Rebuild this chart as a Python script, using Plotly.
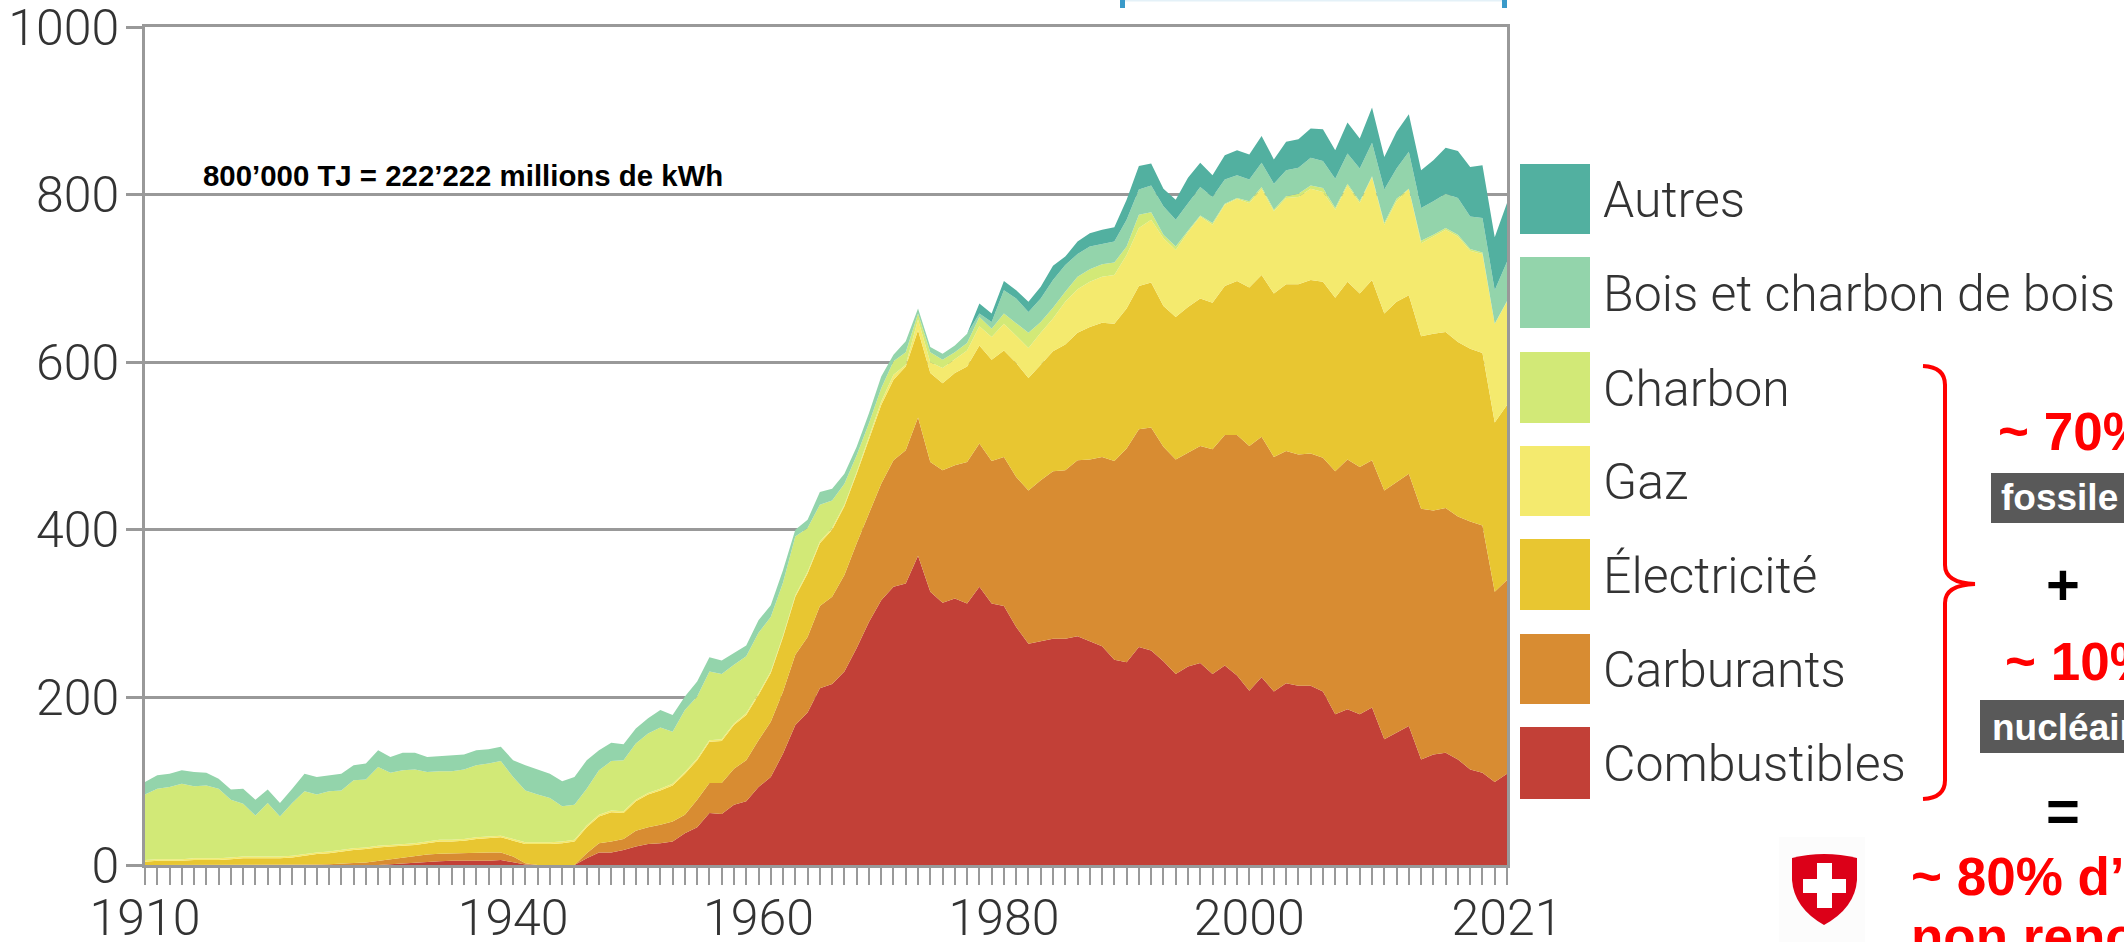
import plotly.graph_objects as go

years = list(range(1910, 2022))

# Upper boundary of each stacked band (1000 TJ)
combustibles = [0,0,0,0,0,0,0,0,0,0,0,0,0,0,0,0,0,0,0,0,
 1,2,3,4,4.5,5,5,5,5,6,3,0.5,0,0,0,0,
 8,15,15,18,22,25,26,28,38,45,62,61,72,76,93,105,133,167,182,211,216,231,259,290,316,332,336,369,326,313,318,312,332,312,309,
 284,264,267,270,270,273,267,261,245,242,260,256,243,228,237,241,228,238,226,208,224,207,217,214,214,207,180,186,180,188,150,158,166,126,132,134,126,114,110,99,109]
carburants = [0,0,0,0,0,0,0,0,0,0,0,0,0,0,
 0.5,1,2,2.5,3,5,7,9,11,12.5,13.5,14,14,14.5,15,15,10,2,0,0,0,0,
 14,26,28,31,41,45,48,52,60,78,98,98,115,125,149,171,207,251,272,309,320,346,384,420,455,483,495,534,481,471,477,481,503,482,487,
 463,447,459,470,471,483,484,487,482,497,520,522,499,484,492,500,496,513,513,500,511,487,494,490,491,486,470,484,475,483,447,457,467,425,423,426,416,410,405,326,340]
electricite = [4,5,5,5,6,6,6,7,8,8,8,8,9,11,13,14,16,18,19,21,22,23,24,26,28,28,29,31,32,33,29,25,25,25,26,28,
 45,58,63,62,76,84,89,95,109,125,147,148,167,179,203,229,272,320,348,384,400,428,467,507,549,579,595,638,587,575,587,595,620,603,614,
 599,581,597,613,621,635,642,647,646,664,691,695,667,654,666,676,671,691,697,689,704,682,693,693,698,696,677,696,682,698,658,672,680,631,634,636,624,616,611,528,549]
gaz = [6,7,7,7,8,8,8,9,10,10,10,10,11,13,15,16,18,20,21,23,24,25,26,28,30,30,31,33,34,35,31,27,27,27,28,30,
 47,60,65,64,78,86,91,97,111,127,149,150,169,181,205,231,274,322,350,386,402,430,469,510,553,585,597,651,600,593,604,614,643,630,646,
 632,617,635,652,672,687,696,702,704,728,760,770,748,734,755,774,764,788,795,790,807,780,796,797,807,803,782,811,790,821,764,792,807,742,750,758,750,733,729,646,672]
charbon = [84,91,93,97,94,95,91,78,73,59,74,58,74,88,84,88,89,101,102,117,110,113,114,111,112,112,114,119,121,124,105,89,84,80,70,72,
 91,113,124,125,145,157,164,159,185,201,231,228,239,249,277,296,337,392,402,430,435,455,489,527,569,601,612,658,612,603,612,623,654,640,658,
 646,635,648,665,684,702,711,717,719,738,776,779,752,738,757,775,766,789,796,792,809,782,798,801,811,808,784,813,792,822,766,795,807,745,752,760,752,735,731,646,673]
bois = [99,107,109,113,111,110,103,90,91,78,90,74,91,109,105,107,109,119,121,137,129,134,134,129,130,131,132,137,138,141,125,119,114,109,100,105,
 125,137,146,144,163,175,185,179,201,219,248,244,253,262,292,310,352,400,412,445,449,467,499,539,583,609,625,664,618,610,620,634,658,648,686,
 676,660,676,698,716,729,738,741,744,770,806,811,786,770,790,809,797,818,823,818,838,813,829,832,844,840,819,849,831,862,806,831,851,784,792,801,796,774,772,686,720]
autres = [99,107,109,113,111,110,103,90,91,78,90,74,91,109,105,107,109,119,121,137,129,134,134,129,130,131,132,137,138,141,125,119,114,109,100,105,
 125,137,146,144,163,175,185,179,201,219,248,244,253,262,292,310,352,400,412,445,449,467,499,539,583,609,625,664,618,610,620,634,670,658,697,
 686,672,690,715,726,744,754,758,761,794,834,837,807,794,820,838,823,847,853,848,870,842,863,866,879,878,853,886,867,904,845,875,896,829,841,856,852,833,835,749,790]

series_names = ["Combustibles", "Carburants", "Électricité", "Gaz", "Charbon", "Bois et charbon de bois", "Autres"]
series_tops = [combustibles, carburants, electricite, gaz, charbon, bois, autres]
series_colors = ["#c24037", "#d88c32", "#e8c631", "#f4ea6e", "#d2e977", "#93d4ab", "#52b0a0"]
x_tick_years = [1910, 1940, 1960, 1980, 2000, 2021]
y_ticks = [0, 200, 400, 600, 800, 1000]
note = "800’000 TJ = 222’222 millions de kWh"

W, H = 2124, 942
L, R, T, B = 145, 1507, 27, 865
def X(px): return (px - L) / (R - L)
def Y(py): return (B - py) / (B - T)

fig = go.Figure()
for i, (n, t, c) in enumerate(zip(series_names, series_tops, series_colors)):
    fig.add_trace(go.Scatter(x=years, y=t, name=n, mode="lines", line=dict(width=0, color=c),
                             fill="tozeroy" if i == 0 else "tonexty", fillcolor=c,
                             showlegend=False, hoverinfo="skip"))

shapes, ann = [], []
def rect(x0, y0, x1, y1, color):
    shapes.append(dict(type="rect", xref="paper", yref="paper", x0=X(x0), x1=X(x1), y0=Y(y0), y1=Y(y1),
                       fillcolor=color, line=dict(width=0)))
def path(points_cmd, fill=None, line=None, width=0):
    s = ""
    for cmd, *pts in points_cmd:
        s += cmd
        s += " ".join(f"{X(pts[j]):.5f},{Y(pts[j+1]):.5f}" for j in range(0, len(pts), 2)) + " "
    shapes.append(dict(type="path", xref="paper", yref="paper", path=s + ("Z" if fill else ""),
                       fillcolor=fill if fill else "rgba(0,0,0,0)",
                       line=dict(color=line or "rgba(0,0,0,0)", width=width)))
def text(px, py, t, size, color, bold=False, anchor="left", family=None, weight=None):
    f = dict(size=size, color=color, family=family or "Liberation Sans, Arial", weight=weight or (700 if bold else 400))
    ann.append(dict(xref="paper", yref="paper", x=X(px), y=Y(py), text=t, showarrow=False,
                    xanchor=anchor, yanchor="middle", font=f, borderpad=0, borderwidth=0))

# Legend
swatch_y = [(164, 234), (257, 328), (352, 423), (446, 516), (539, 610), (634, 704), (727, 799)]
for (y0, y1), n, c in zip(swatch_y, series_names[::-1], series_colors[::-1]):
    rect(1520, y0, 1590, y1, c)
    text(1603, (y0 + y1) / 2 + 1, n, 50, "#333333", family="Roboto", weight=300)

# Note
text(203, 176, note, 29.4, "#000000", bold=True)

# Blue fragment at top
rect(1120, 0, 1125, 8, "#3a9ac9")
rect(1502, 0, 1507, 8, "#3a9ac9")
rect(1125, 0, 1502, 1.5, "#e4f1f8")

# Red brace
path([("M", 1923, 366), ("Q", 1945, 367, 1945, 385), ("L", 1945, 565), ("Q", 1945, 583, 1975, 584),
      ("Q", 1945, 585, 1945, 603), ("L", 1945, 780), ("Q", 1945, 798, 1923, 799)], line="#ff0000", width=4)

# Right-hand text
text(1998, 431, "~ 70%", 53, "#ff0000", bold=True)
rect(1991, 473, 2124, 523, "#595959")
text(2001, 498, "fossile", 37, "#ffffff", bold=True)
text(2063, 584, "+", 58, "#000000", bold=True, anchor="center")
text(2005, 661, "~ 10%", 53, "#ff0000", bold=True)
rect(1980, 700, 2124, 753, "#595959")
text(1992, 727, "nucléaire", 37, "#ffffff", bold=True)
text(2063, 810, "=", 58, "#000000", bold=True, anchor="center")
text(1911, 876, "~ 80% d’énergie", 53, "#ff0000", bold=True)
text(1911, 936, "non renouvelable", 53, "#ff0000", bold=True)

# Swiss shield
rect(1779, 837, 1865, 942, "#fcfcfc")
path([("M", 1792, 858), ("Q", 1824, 850, 1857, 858), ("L", 1857, 880), ("Q", 1855, 908, 1824, 925),
      ("Q", 1794, 908, 1792, 880)], fill="#dc0018")
rect(1817, 863, 1832, 908, "#ffffff")
rect(1803, 879, 1846, 893, "#ffffff")

axis_font = dict(family="Roboto", size=50, color="#333333", weight=300)
fig.update_layout(
    width=W, height=H, autosize=False,
    margin=dict(l=L, r=W - R, t=T, b=H - B, pad=0, autoexpand=False),
    paper_bgcolor="white", plot_bgcolor="white",
    shapes=shapes, annotations=ann,
    xaxis=dict(range=[1910, 2021], tickmode="array", tickvals=x_tick_years, ticktext=[str(v) for v in x_tick_years],
               ticks="outside", ticklen=17, tickwidth=2, tickcolor="#999999", showgrid=False, zeroline=False,
               showline=True, linecolor="#999999", linewidth=2.5, mirror=True, tickfont=axis_font,
               automargin=False, ticklabeloverflow="allow", ticklabelstandoff=-10,
               minor=dict(dtick=1, tick0=1910, ticks="outside", ticklen=17, tickwidth=2, tickcolor="#999999", showgrid=False)),
    yaxis=dict(range=[0, 1000], tickvals=y_ticks, ticks="outside", ticklen=16, tickwidth=2.5, tickcolor="#999999",
               showgrid=True, gridcolor="#999999", gridwidth=2.5, zeroline=False, automargin=False, ticklabeloverflow="allow",
               ticklabelstandoff=-3,
               showline=True, linecolor="#999999", linewidth=2.5, mirror=True, tickfont=axis_font),
)
fig.write_html("out.html", config={"displayModeBar": False},
               post_script="document.body.style.margin='0';document.body.style.overflow='hidden';")
